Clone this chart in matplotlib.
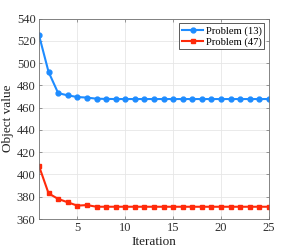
import matplotlib
matplotlib.use("Agg")
import matplotlib.pyplot as plt

iterations = list(range(1, 26))
problem13 = [525, 492, 473, 471, 469.5, 469, 468, 467.8, 467.7, 467.7, 467.7, 467.7, 467.7,
             467.7, 467.7, 467.7, 467.7, 467.7, 467.7, 467.7, 467.7, 467.7, 467.7, 467.7, 467.7]
problem47 = [407.5, 383, 378, 375, 372, 372.5, 371, 371, 371, 371, 371, 371, 371,
             371, 371, 371, 371, 371, 371, 371, 371, 371, 371, 371, 371]
xticks = [5, 10, 15, 20, 25]
yticks = [360, 380, 400, 420, 440, 460, 480, 500, 520, 540]

plt.rcParams['font.family'] = ['Liberation Serif', 'DejaVu Serif']
fig = plt.figure(figsize=(2.98, 2.5), dpi=100)
ax = fig.add_axes([39/298, 1-219/250, (269-39)/298, (219-18.5)/250])

ax.plot(iterations, problem13, color='#1E8CFF', marker='o', markersize=3.5, linewidth=1.5,
        label='Problem (13)')
ax.plot(iterations, problem47, color='#FF2A0A', marker='s', markersize=3.5, linewidth=1.5,
        label='Problem (47)')

ax.set_xlim(1, 25)
ax.set_ylim(360, 540)
ax.set_xticks(xticks)
ax.set_yticks(yticks)
ax.grid(True, color='#E6E6E6', linewidth=0.6)
ax.set_axisbelow(True)
for s in ax.spines.values():
    s.set_color('#707070')
    s.set_linewidth(0.6)
ax.tick_params(direction='in', top=True, right=True, length=2.5, width=0.5,
               labelsize=9, colors='#707070', labelcolor='#303030', pad=2.5)
ax.set_xlabel('Iteration', fontsize=9.5, labelpad=1, color='#202020')
ax.set_ylabel('Object value', fontsize=9.5, labelpad=2, color='#202020')

leg = ax.legend(loc='upper right', fontsize=7.6, frameon=True, fancybox=False,
                edgecolor='#404040', framealpha=1, borderpad=0.25, labelspacing=0.15,
                handlelength=2.0, handletextpad=0.25, borderaxespad=0.45)
leg.get_frame().set_linewidth(0.6)

fig.savefig('out.png', dpi=100)
